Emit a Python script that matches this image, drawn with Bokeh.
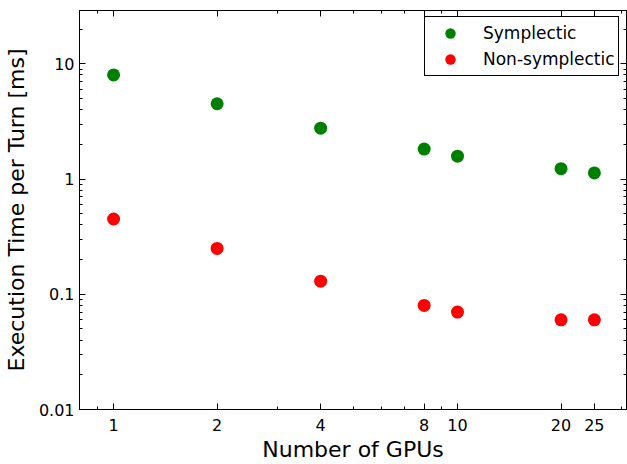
from bokeh.plotting import figure
from bokeh.models import LogAxis, FixedTicker, CustomJSTickFormatter, Legend, LegendItem, ColumnDataSource
from bokeh.embed import file_html
from bokeh.resources import INLINE

gpus = [1, 2, 4, 8, 10, 20, 25]
symplectic = [8.0, 4.5, 2.76, 1.82, 1.58, 1.23, 1.13]
non_symplectic = [0.45, 0.25, 0.13, 0.08, 0.07, 0.06, 0.06]
x_ticks = [1, 2, 4, 8, 10, 20, 25]
x_minor = [0.9, 2, 3, 4, 5, 6, 7, 8, 9, 10, 20, 30]
y_ticks = [0.01, 0.1, 1, 10]
y_minor = [v * m for v in [0.01, 0.1, 1, 10] for m in range(1, 10)]

FONT = "DejaVu Sans"

p = figure(width=627, height=464, x_axis_type="log", y_axis_type="log",
           x_range=(0.796, 31.0), y_range=(0.01, 29.0),
           output_backend="svg", toolbar_location=None,
           min_border_left=79, min_border_right=1, min_border_top=10, min_border_bottom=52)
p.background_fill_color = "white"
p.border_fill_color = "white"
p.xgrid.visible = False
p.ygrid.visible = False
p.outline_line_color = "black"
p.outline_line_width = 1
p.outline_line_alpha = 1

fmt = CustomJSTickFormatter(code="return tick.toString();")
blank = CustomJSTickFormatter(code="return '';")

def style(ax, ticks, minor, labels=True):
    ax.ticker = FixedTicker(ticks=ticks, minor_ticks=minor)
    ax.major_tick_in = 6
    ax.major_tick_out = 0
    ax.minor_tick_in = 3
    ax.minor_tick_out = 0
    ax.axis_line_color = "black"
    ax.major_tick_line_color = "black"
    ax.minor_tick_line_color = "black"
    ax.major_label_text_font = FONT
    ax.major_label_text_color = "black"
    ax.axis_label_text_font = FONT
    ax.axis_label_text_color = "black"
    ax.axis_label_text_font_style = "normal"
    ax.axis_label_text_font_size = "22px"
    ax.axis_label_text_line_height = 1.0
    ax.major_label_text_line_height = 1.0
    if labels:
        ax.formatter = fmt
        ax.major_label_text_font_size = "16px"
    else:
        ax.formatter = blank
        ax.major_label_text_font_size = "1px"
        ax.major_label_standoff = 0

style(p.xaxis[0], x_ticks, x_minor)
style(p.yaxis[0], y_ticks, y_minor)
p.xaxis[0].axis_label = "Number of GPUs"
p.yaxis[0].axis_label = "Execution Time per Turn [ms]"
p.xaxis[0].major_label_standoff = 9
p.xaxis[0].axis_label_standoff = 3
p.yaxis[0].major_label_standoff = 5
p.yaxis[0].axis_label_standoff = 7

top = LogAxis()
style(top, x_ticks, x_minor, labels=False)
p.add_layout(top, "above")
right = LogAxis()
style(right, y_ticks, y_minor, labels=False)
p.add_layout(right, "right")

src = ColumnDataSource(dict(x=gpus, s=symplectic, n=non_symplectic))
r1 = p.scatter("x", "s", source=src, size=13, color="#008000", line_color=None)
r2 = p.scatter("x", "n", source=src, size=13, color="#ff0000", line_color=None)

legend = Legend(items=[LegendItem(label="Symplectic", renderers=[r1]),
                       LegendItem(label="Non-symplectic", renderers=[r2])],
                location=(345, 333))
legend.label_text_font = FONT
legend.label_text_font_size = "17px"
legend.label_text_color = "black"
legend.border_line_color = "black"
legend.border_line_width = 1
legend.border_line_alpha = 1
legend.background_fill_alpha = 1
legend.padding = 3
legend.margin = 0
legend.spacing = 0
legend.glyph_width = 44
legend.glyph_height = 26
legend.label_standoff = 11
legend.label_height = 20
p.add_layout(legend, "center")

open("out.html", "w").write(file_html(p, INLINE))
